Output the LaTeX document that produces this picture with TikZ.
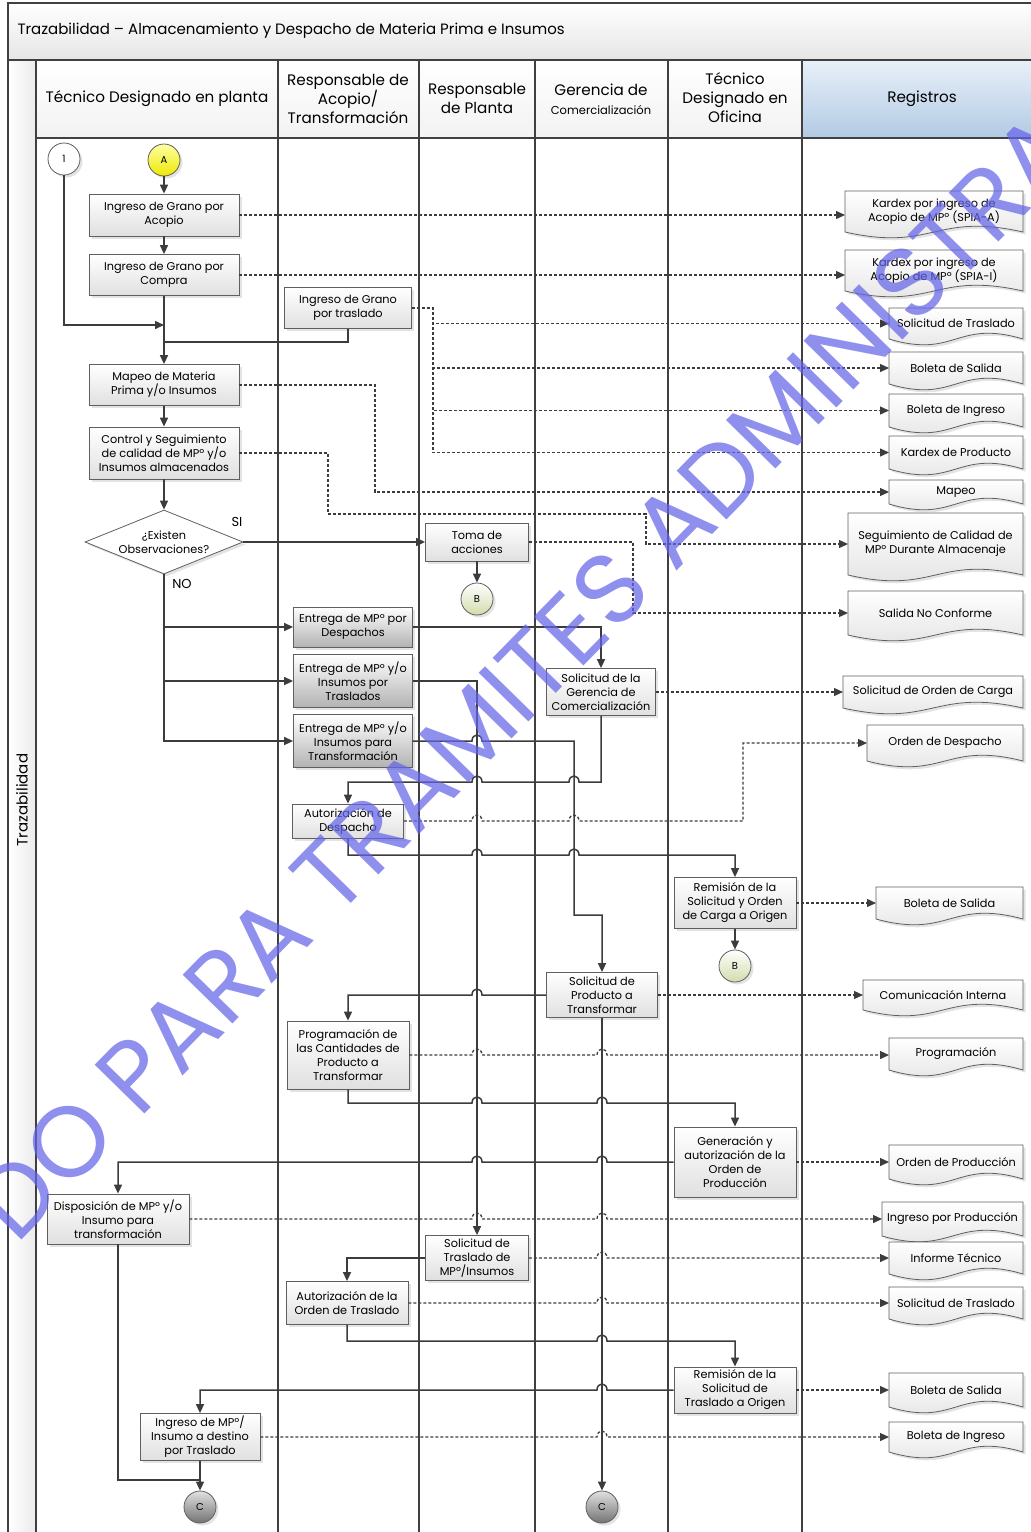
\documentclass[tikz,border=0pt]{standalone}
\usepackage{fontspec}
\setmainfont{Poppins}
\usepackage{tikz}
\usetikzlibrary{arrows.meta, positioning, shapes.geometric, calc, backgrounds, shadows}
\definecolor{lineg}{RGB}{60,60,60}
\definecolor{bx}{RGB}{95,95,95}
\definecolor{boxlo}{RGB}{224,224,224}
\definecolor{graylo}{RGB}{178,178,178}
\definecolor{reghi}{RGB}{232,240,248}
\definecolor{reglo}{RGB}{178,202,228}
\definecolor{yel}{RGB}{238,232,0}
\definecolor{grn}{RGB}{210,220,172}
\definecolor{wmark}{RGB}{100,100,232}
% line jumps over vertical connectors (rightward / leftward)
\newcommand{\hop}[2]{-- (#1-5,#2) .. controls (#1-5,#2-8) and (#1+5,#2-8) .. (#1+5,#2)}
\newcommand{\hopl}[2]{-- (#1+5,#2) .. controls (#1+5,#2-8) and (#1-5,#2-8) .. (#1-5,#2)}

\begin{document}
\begin{tikzpicture}[
  x=1pt, y=-1pt,
  font=\fontsize{11.3}{14}\selectfont,
  shd/.style={drop shadow={opacity=0.22, shadow xshift=2.5pt, shadow yshift=-2.5pt}},
  b/.style={draw=bx, line width=0.8pt, top color=white, bottom color=boxlo,
            align=center, inner sep=1pt, shd},
  g/.style={b, bottom color=graylo},
  doc/.style={anchor=north west, align=center, inner sep=1pt, outer sep=0pt},
  docshape/.style={draw=bx, line width=0.8pt, top color=white, bottom color=boxlo, shd},
  con/.style={circle, draw=bx, line width=0.8pt, minimum size=32, inner sep=0pt,
              font=\fontsize{10}{11}\selectfont, shd},
  a/.style={draw=lineg, line width=1.5pt, -{Triangle[length=9pt, width=8pt]}},
  j/.style={draw=lineg, line width=1.5pt},
  d/.style={draw=lineg, line width=1.3pt, dash pattern=on 3pt off 2pt,
            -{Triangle[length=9pt, width=8pt]}},
  lane/.style={draw=black!75, line width=1.2pt},
  hd/.style={align=center, font=\fontsize{15.2}{19}\selectfont},
  lbl/.style={font=\fontsize{13}{15}\selectfont},
  wm/.style={rotate=45.6, text=wmark, opacity=0.72, font=\fontsize{100}{100}\selectfont}
]
\useasboundingbox (0,0) rectangle (1031,1532);

% ---------- pool, title and lane headers ----------
\begin{scope}[on background layer]
\draw[lane, top color=white, bottom color=black!10] (8,3) rectangle (1040,60);
\draw[lane, left color=white, right color=black!8] (8,60) rectangle (36,1540);
\foreach \x/\y in {36/278, 278/419, 419/535, 535/668, 668/802}
  {\draw[lane, top color=white, bottom color=black!5] (\x,60) rectangle (\y,138);}
\draw[lane, top color=reghi, bottom color=reglo] (802,60) rectangle (1040,138);
\foreach \x in {36,278,419,535,668,802}
  {\draw[lane] (\x,60) -- (\x,1540);}
\end{scope}

\node[anchor=west, font=\fontsize{15}{17}\selectfont] (ttl) at (14,31)
  {Trazabilidad – Almacenamiento y Despacho de Materia Prima e Insumos};
\node[rotate=90, font=\fontsize{15}{17}\selectfont] (pool) at (22,800) {Trazabilidad};
\node[hd] (h1) at (157,99) {Técnico Designado en planta};
\node[hd] (h2) at (348,99) {Responsable de\\Acopio/\\Transformación};
\node[hd] (h3) at (477,98) {Responsable\\de Planta};
\node[hd] (h4) at (601,99) {Gerencia de\\{\fontsize{11.5}{13}\selectfont Comercialización}};
\node[hd] (h5) at (735,98) {Técnico\\Designado en\\Oficina};
\node[hd] (h6) at (922,99) {Registros};

% ---------- process boxes ----------
\node[con, fill=white] (one) at (64,159) {1};
\node[con, top color=yellow!35, bottom color=yel] (ca) at (164,160) {A};
\node[b, minimum width=150, minimum height=42] (n1) at (164,215) {Ingreso de Grano por\\Acopio};
\node[b, minimum width=150, minimum height=41] (n2) at (164,275) {Ingreso de Grano por\\Compra};
\node[b, minimum width=127, minimum height=41] (tr) at (348,308) {Ingreso de Grano\\por traslado};
\node[b, minimum width=150, minimum height=41] (mp) at (164,385) {Mapeo de Materia\\Prima y/o Insumos};
\node[b, minimum width=150, minimum height=52] (cs) at (164,453)
  {Control y Seguimiento\\de calidad de MPº y/o\\Insumos almacenados};
\node[diamond, draw=bx, line width=0.8pt, fill=white, aspect=2.45, inner sep=0pt,
      minimum width=158, minimum height=64, align=center, shd] (obs) at (164,542)
  {¿Existen\\Observaciones?};
\node[lbl] (si) at (237,522) {SI};
\node[lbl] (no) at (182,584) {NO};
\node[b, minimum width=103, minimum height=38] (ta) at (477,542) {Toma de\\acciones};
\node[con, top color=white, bottom color=grn] (b1) at (477,599) {B};
\node[g, minimum width=119, minimum height=40] (e1) at (353,627) {Entrega de MPº por\\Despachos};
\node[g, minimum width=119, minimum height=53] (e2) at (353,681) {Entrega de MPº y/o\\Insumos por\\Traslados};
\node[g, minimum width=119, minimum height=53] (e3) at (353,741) {Entrega de MPº y/o\\Insumos para\\Transformación};
\node[b, minimum width=109, minimum height=47] (sg) at (601,692) {Solicitud de la\\Gerencia de\\Comercialización};
\node[b, minimum width=111, minimum height=34] (ad) at (348,821) {Autorización de\\Despacho};
\node[b, minimum width=122, minimum height=51] (rm) at (735,903) {Remisión de la\\Solicitud y Orden\\de Carga a Origen};
\node[con, top color=white, bottom color=grn] (b2) at (735,966) {B};
\node[b, minimum width=111, minimum height=45] (sp) at (602,995) {Solicitud de\\Producto a\\Transformar};
\node[b, minimum width=122, minimum height=68] (pg) at (348,1055)
  {Programación de\\las Cantidades de\\Producto a\\Transformar};
\node[b, minimum width=122, minimum height=70] (go) at (735,1162)
  {Generación y\\autorización de la\\Orden de\\Producción};
\node[b, minimum width=142, minimum height=50] (dp) at (118,1219) {Disposición de MPº y/o\\Insumo para\\transformación};
\node[b, minimum width=103, minimum height=45] (st) at (477,1258) {Solicitud de\\Traslado de\\MPº/Insumos};
\node[b, minimum width=122, minimum height=43] (ao) at (347,1303) {Autorización de la\\Orden de Traslado};
\node[b, minimum width=122, minimum height=46] (rt) at (735,1390) {Remisión de la\\Solicitud de\\Traslado a Origen};
\node[b, minimum width=120, minimum height=47] (im) at (200,1437) {Ingreso de MPº/\\Insumo a destino\\por Traslado};
\node[con, top color=black!12, bottom color=black!55] (c1) at (200,1507) {C};
\node[con, top color=black!12, bottom color=black!55] (c2) at (602,1507) {C};

% ---------- records ----------
\node[doc, minimum width=178, minimum height=41] (r1) at (845,191) {Kardex por ingreso de\\Acopio de MPº (SPIA-A)};
\node[doc, minimum width=178, minimum height=41] (r2) at (845,250) {Kardex por ingreso de\\Acopio de MPº (SPIA-I)};
\node[doc, minimum width=134, minimum height=31] (r3) at (889,308) {Solicitud de Traslado};
\node[doc, minimum width=134, minimum height=32] (r4) at (889,352) {Boleta de Salida};
\node[doc, minimum width=134, minimum height=33] (r5) at (889,394) {Boleta de Ingreso};
\node[doc, minimum width=134, minimum height=33] (r6) at (889,436) {Kardex de Producto};
\node[doc, minimum width=134, minimum height=24] (r7) at (889,480) {Mapeo};
\node[doc, minimum width=175, minimum height=62] (r8) at (848,513) {Seguimiento de Calidad de\\MPº Durante Almacenaje};
\node[doc, minimum width=175, minimum height=44] (r9) at (848,591) {Salida No Conforme};
\node[doc, minimum width=180, minimum height=32] (r10) at (843,676) {Solicitud de Orden de Carga};
\node[doc, minimum width=156, minimum height=36] (r11) at (867,725) {Orden de Despacho};
\node[doc, minimum width=147, minimum height=32] (r12) at (876,887) {Boleta de Salida};
\node[doc, minimum width=160, minimum height=30] (r13) at (863,980) {Comunicación Interna};
\node[doc, minimum width=134, minimum height=32] (r14) at (889,1038) {Programación};
\node[doc, minimum width=134, minimum height=34] (r15) at (889,1145) {Orden de Producción};
\node[doc, minimum width=141, minimum height=34] (r16) at (882,1202) {Ingreso por Producción};
\node[doc, minimum width=134, minimum height=32] (r17) at (889,1242) {Informe Técnico};
\node[doc, minimum width=134, minimum height=32] (r18) at (889,1287) {Solicitud de Traslado};
\node[doc, minimum width=134, minimum height=34] (r19) at (889,1373) {Boleta de Salida};
\node[doc, minimum width=134, minimum height=30] (r20) at (889,1422) {Boleta de Ingreso};

\begin{scope}[on background layer]
\foreach \i in {1,...,20}
  {\draw[docshape] (r\i.north west) -- (r\i.north east) -- (r\i.south east)
     .. controls ($(r\i.south west)!0.5!(r\i.south east)+(0,-20)$)
        and ($(r\i.south west)!0.5!(r\i.south east)+(0,20)$) .. (r\i.south west) -- cycle;}
\end{scope}

% ---------- sequence flow ----------
\coordinate (j1) at (164,325);
\coordinate (j2) at (164,342);
\coordinate (j3) at (200,1480);
\draw[a] (ca) -- (n1);
\draw[a] (n1) -- (n2);
\draw[a] (one) |- (j1);
\draw[a] (n2) -- (mp);
\draw[j] (tr.south) |- (j2);
\draw[a] (mp) -- (cs);
\draw[a] (cs) -- (obs);
\draw[a] (obs.east) -- (ta.west);
\draw[a] (ta) -- (b1);
\draw[a] (obs.south) |- (e3.west);
\draw[a] (obs.south |- e1.west) -- (e1.west);
\draw[a] (obs.south |- e2.west) -- (e2.west);
\draw[a] (e1.east) -| (sg.north);
\draw[a] (e2.east) -| (st.north);
\draw[a] (e3.east) \hop{477}{741} -- (574,741) -- (574,915) -| (sp.north);
\draw[a] (sg.south) -- (601,782) \hopl{574}{782} \hopl{477}{782} -| (ad.north);
\draw[a] (ad.south) -- (348,855) \hop{477}{855} \hop{574}{855} -| (rm.north);
\draw[a] (rm) -- (b2);
\draw[a] (sp.west) \hopl{477}{995} -| (pg.north);
\draw[a] (sp.south) -- (c2.north);
\draw[a] (pg.south) -- (348,1103) \hop{477}{1103} \hop{602}{1103} -| (go.north);
\draw[a] (go.west) \hopl{602}{1162} \hopl{477}{1162} -| (dp.north);
\draw[a] (st.west) -| (ao.north);
\draw[a] (ao.south) -- (347,1341) \hop{602}{1341} -| (rt.north);
\draw[a] (rt.west) \hopl{602}{1390} -| (im.north);
\draw[a] (im) -- (c1);
\draw[j] (dp.south) |- (j3);

% ---------- record links ----------
\draw[d] (n1.east) -- (n1.east -| r1.west);
\draw[d] (n2.east) -- (n2.east -| r2.west);
\foreach \k in {r3,r4,r5,r6}
  {\draw[d] (tr.east) -- ++(21,0) |- (\k.west);}
\draw[d] (mp.east) -- (375,385) |- (r7.west);
\draw[d] (cs.east) -- (328,453) -- (328,514) -- (646,514) |- (r8.west);
\draw[d] (ta.east) -- (633,542) |- (r9.west);
\draw[d] (sg.east) -- (sg.east -| r10.west);
\draw[d] (ad.east) \hop{477}{821} \hop{574}{821} -- (743,821) |- (r11.west);
\draw[d] (rm.east) -- (rm.east -| r12.west);
\draw[d] (sp.east) -- (sp.east -| r13.west);
\draw[d] (pg.east) \hop{477}{1055} \hop{602}{1055} -- (pg.east -| r14.west);
\draw[d] (go.east) -- (go.east -| r15.west);
\draw[d] (dp.east) \hop{477}{1219} \hop{602}{1219} -- (dp.east -| r16.west);
\draw[d] (st.east) \hop{602}{1258} -- (st.east -| r17.west);
\draw[d] (ao.east) \hop{602}{1303} -- (ao.east -| r18.west);
\draw[d] (rt.east) -- (rt.east -| r19.west);
\draw[d] (im.east) \hop{602}{1437} -- (im.east -| r20.west);

% ---------- watermark ----------
\node[wm] (wmk) at (525,676) {DO PARA TRAMITES ADMINISTRA};

\end{tikzpicture}
\end{document}
